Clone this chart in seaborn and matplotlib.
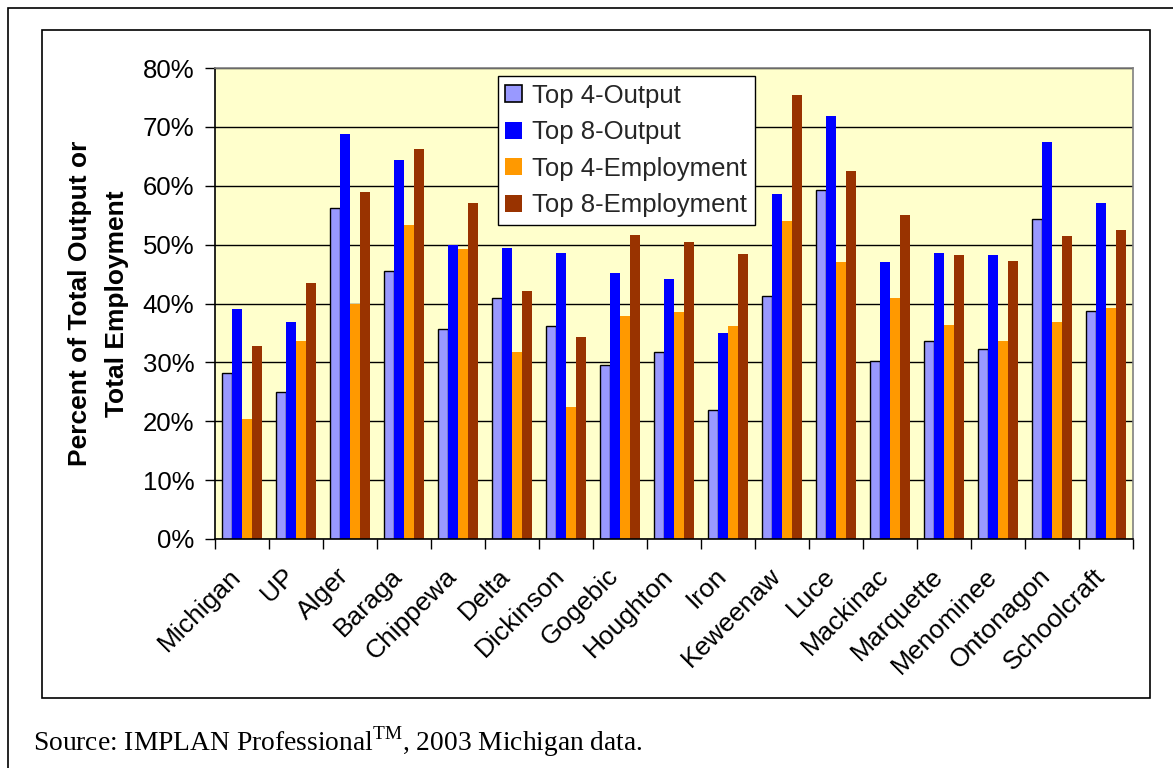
import matplotlib
matplotlib.use("Agg")
import matplotlib.pyplot as plt
import matplotlib.transforms as mtransforms
import seaborn as sns
import pandas as pd
import numpy as np
from matplotlib.patches import Rectangle
from matplotlib.ticker import FixedLocator, PercentFormatter

regions = ["Michigan", "UP", "Alger", "Baraga", "Chippewa", "Delta", "Dickinson",
           "Gogebic", "Houghton", "Iron", "Keweenaw", "Luce", "Mackinac",
           "Marquette", "Menominee", "Ontonagon", "Schoolcraft"]
top4_output = [28.2, 25.0, 56.2, 45.6, 35.6, 41.0, 36.1, 29.5, 31.7, 21.9, 41.3, 59.2, 30.2, 33.6, 32.2, 54.4, 38.8]
top8_output = [39.1, 36.8, 68.8, 64.3, 50.0, 49.5, 48.6, 45.2, 44.1, 35.0, 58.6, 71.9, 47.0, 48.6, 48.2, 67.5, 57.0]
top4_employment = [20.3, 33.7, 39.9, 53.4, 49.2, 31.8, 22.5, 37.9, 38.6, 36.1, 54.0, 47.0, 40.9, 36.4, 33.7, 36.8, 39.3]
top8_employment = [32.7, 43.4, 59.0, 66.3, 57.1, 42.2, 34.3, 51.6, 50.4, 48.4, 75.4, 62.5, 55.0, 48.2, 47.3, 51.4, 52.5]

series_names = ["Top 4-Output", "Top 8-Output", "Top 4-Employment", "Top 8-Employment"]
series_colors = ["#9999FF", "#0000FF", "#FF9900", "#993300"]

df = pd.DataFrame({
    "Region": regions * 4,
    "Series": sum([[s] * len(regions) for s in series_names], []),
    "Value": top4_output + top8_output + top4_employment + top8_employment,
})

sns.set_theme(style="white")
plt.rcParams["font.family"] = ["Liberation Sans", "DejaVu Sans"]
plt.rcParams["mathtext.fontset"] = "custom"
plt.rcParams["mathtext.rm"] = "Liberation Serif"

fig = plt.figure(figsize=(11.73, 7.68), dpi=100)
fig.patch.set_facecolor("white")

# outer frame and inner chart frame
fig.add_artist(Rectangle((8 / 1173, -0.05), 1.1, (760 + 0.05 * 768) / 768,
                         transform=fig.transFigure, fill=False, edgecolor="black", lw=1.2))
fig.add_artist(Rectangle((42 / 1173, (768 - 698) / 768), (1150 - 42) / 1173, (698 - 30) / 768,
                         transform=fig.transFigure, fill=False, edgecolor="black", lw=1.2))

ax = fig.add_axes([215 / 1173, (768 - 539) / 768, 918 / 1173, 471 / 768])
ax.set_facecolor("#FFFFCC")

sns.barplot(data=df, x="Region", y="Value", hue="Series", hue_order=series_names,
            palette=series_colors, width=0.73, gap=0, ax=ax, saturation=1,
            linewidth=0, legend=True)

# outline for the light series
for bar in ax.containers[0]:
    bar.set_edgecolor("black")
    bar.set_linewidth(1.0)

ax.set_ylim(0, 80)
ax.set_xlim(-0.5, len(regions) - 0.5)
ax.set_yticks(np.arange(0, 81, 10))
ax.yaxis.set_major_formatter(PercentFormatter(decimals=0))
ax.yaxis.grid(True, color="black", lw=1.0)
ax.set_axisbelow(True)

for s in ["top", "right"]:
    ax.spines[s].set_color("#808080")
    ax.spines[s].set_linewidth(1.2)
for s in ["left", "bottom"]:
    ax.spines[s].set_color("black")
    ax.spines[s].set_linewidth(1.2)

ax.tick_params(axis="y", which="major", direction="out", length=7, width=1, color="black",
               labelsize=18.5, pad=8, left=True)
ax.tick_params(axis="x", which="major", length=0, labelsize=19, pad=24)
ax.xaxis.set_minor_locator(FixedLocator(np.arange(-0.5, len(regions), 1.0)))
ax.tick_params(axis="x", which="minor", direction="out", length=7, width=1, color="black", bottom=True)

ax.set_xticks(range(len(regions)))
ax.set_xticklabels(regions, rotation=45, ha="right", va="center", rotation_mode="anchor")
shift = mtransforms.ScaledTranslation(-5 / 100, 0, fig.dpi_scale_trans)
for lbl in ax.get_xticklabels():
    lbl.set_color("black")
    lbl.set_transform(lbl.get_transform() + shift)
for lbl in ax.get_yticklabels():
    lbl.set_color("black")

ax.set_xlabel("")
ax.set_ylabel("Percent of Total Output or\nTotal Employment", fontsize=19, fontweight="bold",
              color="black", labelpad=10, linespacing=1.65)

leg = ax.legend(loc="upper left", bbox_to_anchor=(0.308, 0.983), frameon=True, fancybox=False,
                edgecolor="black", facecolor="white", fontsize=18.5, handlelength=0.65,
                handleheight=0.65, handletextpad=0.4, labelspacing=0.49, borderpad=0.3,
                framealpha=1, borderaxespad=0)
leg.get_frame().set_linewidth(1.0)
for h in leg.legend_handles:
    h.set_linewidth(0)
leg.legend_handles[0].set_edgecolor("black")
leg.legend_handles[0].set_linewidth(1.2)

fig.text(33 / 1173, (768 - 751) / 768, r"Source: IMPLAN Professional$^{\mathrm{TM}}$, 2003 Michigan data.",
         fontfamily="Liberation Serif", fontsize=19.8, color="black", ha="left", va="baseline")

fig.savefig("out.png", dpi=100)
